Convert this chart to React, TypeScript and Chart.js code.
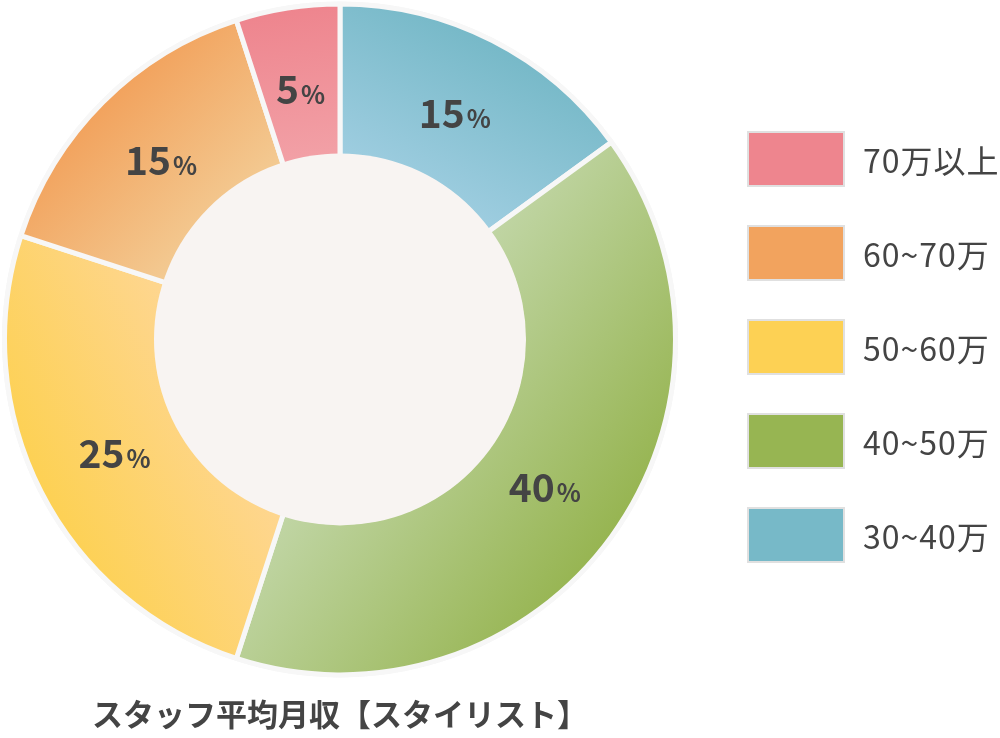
import React, { useEffect, useRef } from "react";
import { Chart, registerables } from "chart.js";

Chart.register(...registerables);

// data (top, clockwise)
const labels = ["30~40万", "40~50万", "50~60万", "60~70万", "70万以上"];
const shares = [15, 40, 25, 15, 5];
const baseColors = ["#77b9c8", "#97b552", "#fdd154", "#f2a35e", "#ee858e"];
const lightColors = ["#9ecde0", "#c0d5a4", "#fed690", "#f3ca92", "#f2a0a6"];
const title = "スタッフ平均月収【スタイリスト】";

const FONT = "'Noto Sans CJK JP', 'Noto Sans', sans-serif";
const OUTER = 333;
const INNER = 186;
const GAP = 5;

// linear gradient along each slice's middle direction, over the slice's extent
const sliceFill = (ctx: any) => {
  const chart = ctx.chart;
  const area = chart.chartArea;
  const i = ctx.dataIndex;
  if (!area || i == null) return baseColors[i ?? 0];
  const cx = (area.left + area.right) / 2;
  const cy = (area.top + area.bottom) / 2;
  const total = shares.reduce((a, b) => a + b, 0);
  const before = shares.slice(0, i).reduce((a, b) => a + b, 0);
  const half = (shares[i] / total) * Math.PI;
  const mid = ((before + shares[i] / 2) / total) * Math.PI * 2 - Math.PI / 2;
  const dx = Math.cos(mid);
  const dy = Math.sin(mid);
  const near = Math.min(INNER * Math.cos(half), OUTER * Math.cos(half));
  const g = chart.ctx.createLinearGradient(
    cx + dx * near, cy + dy * near,
    cx + dx * OUTER, cy + dy * OUTER
  );
  g.addColorStop(0, lightColors[i]);
  g.addColorStop(1, baseColors[i]);
  return g;
};

const ringPlugin = {
  id: "ring",
  beforeDatasetsDraw(chart: any) {
    const arc = chart.getDatasetMeta(0).data[0];
    if (!arc) return;
    const { ctx } = chart;
    ctx.save();
    ctx.fillStyle = "#f7f7f7";
    ctx.beginPath();
    ctx.arc(arc.x, arc.y, OUTER + GAP, 0, Math.PI * 2);
    ctx.fill();
    ctx.restore();
  },
  afterDatasetsDraw(chart: any) {
    const meta = chart.getDatasetMeta(0);
    const first = meta.data[0];
    if (!first) return;
    const { ctx } = chart;
    ctx.save();
    ctx.fillStyle = "#f8f4f2";
    ctx.beginPath();
    ctx.arc(first.x, first.y, INNER, 0, Math.PI * 2);
    ctx.fill();

    ctx.fillStyle = "#444444";
    ctx.textBaseline = "alphabetic";
    ctx.textAlign = "left";
    meta.data.forEach((el: any, i: number) => {
      const mid = (el.startAngle + el.endAngle) / 2;
      const r = 253;
      const px = el.x + Math.cos(mid) * r;
      const py = el.y + Math.sin(mid) * r;
      const num = String(shares[i]);
      ctx.font = `bold 39px ${FONT}`;
      const w1 = ctx.measureText(num).width;
      ctx.font = `bold 25px ${FONT}`;
      const w2 = ctx.measureText("%").width;
      const left = px - (w1 + w2 + 2) / 2;
      ctx.font = `bold 39px ${FONT}`;
      ctx.fillText(num, left, py + 14);
      ctx.font = `bold 25px ${FONT}`;
      ctx.fillText("%", left + w1 + 2, py + 14);
    });
    ctx.restore();
  },
};

const App = () => {
  const chartRef = useRef<HTMLCanvasElement>(null);
  const chartInstance = useRef<any>(null);

  useEffect(() => {
    if (chartInstance.current) {
      chartInstance.current.destroy();
    }
    if (chartRef.current) {
      chartInstance.current = new Chart(chartRef.current, {
        type: "doughnut",
        data: {
          labels,
          datasets: [
            {
              data: shares,
              backgroundColor: sliceFill,
              borderColor: "#f7f7f7",
              borderWidth: GAP,
              radius: OUTER + GAP / 2,
              cutout: INNER - GAP / 2,
            } as any,
          ],
        },
        options: {
          responsive: true,
          maintainAspectRatio: false,
          animation: false,
          layout: { padding: { top: 0, right: 320, bottom: 0, left: 0 } },
          plugins: {
            legend: { display: false },
            tooltip: { enabled: false },
            title: {
              display: true,
              position: "bottom",
              text: title,
              color: "#444444",
              font: { family: FONT, size: 31, weight: "bold" },
              padding: { top: 17, bottom: 5 },
            },
          },
        } as any,
        plugins: [ringPlugin],
      });
    }
    return () => {
      if (chartInstance.current) {
        chartInstance.current.destroy();
        chartInstance.current = null;
      }
    };
  }, []);

  return (
    <div style={{ position: "absolute", left: 0, top: 0, width: 1000, height: 738, background: "#fff" }}>
      <canvas ref={chartRef}></canvas>
      <div
        style={{
          position: "absolute",
          left: 747,
          top: 131,
          display: "flex",
          flexDirection: "column-reverse",
          gap: 38,
          fontFamily: FONT,
          color: "#444444",
          fontSize: 32,
          letterSpacing: 1,
        }}
      >
        {labels.map((l, i) => (
          <div key={l} style={{ display: "flex", alignItems: "center", height: 56 }}>
            <div
              style={{
                width: 94,
                height: 52,
                background: baseColors[i],
                border: "2px solid #e0e0e0",
                marginRight: 18,
                flexShrink: 0,
              }}
            ></div>
            <span style={{ lineHeight: "56px", whiteSpace: "nowrap" }}>{l}</span>
          </div>
        ))}
      </div>
    </div>
  );
};

export default App;
